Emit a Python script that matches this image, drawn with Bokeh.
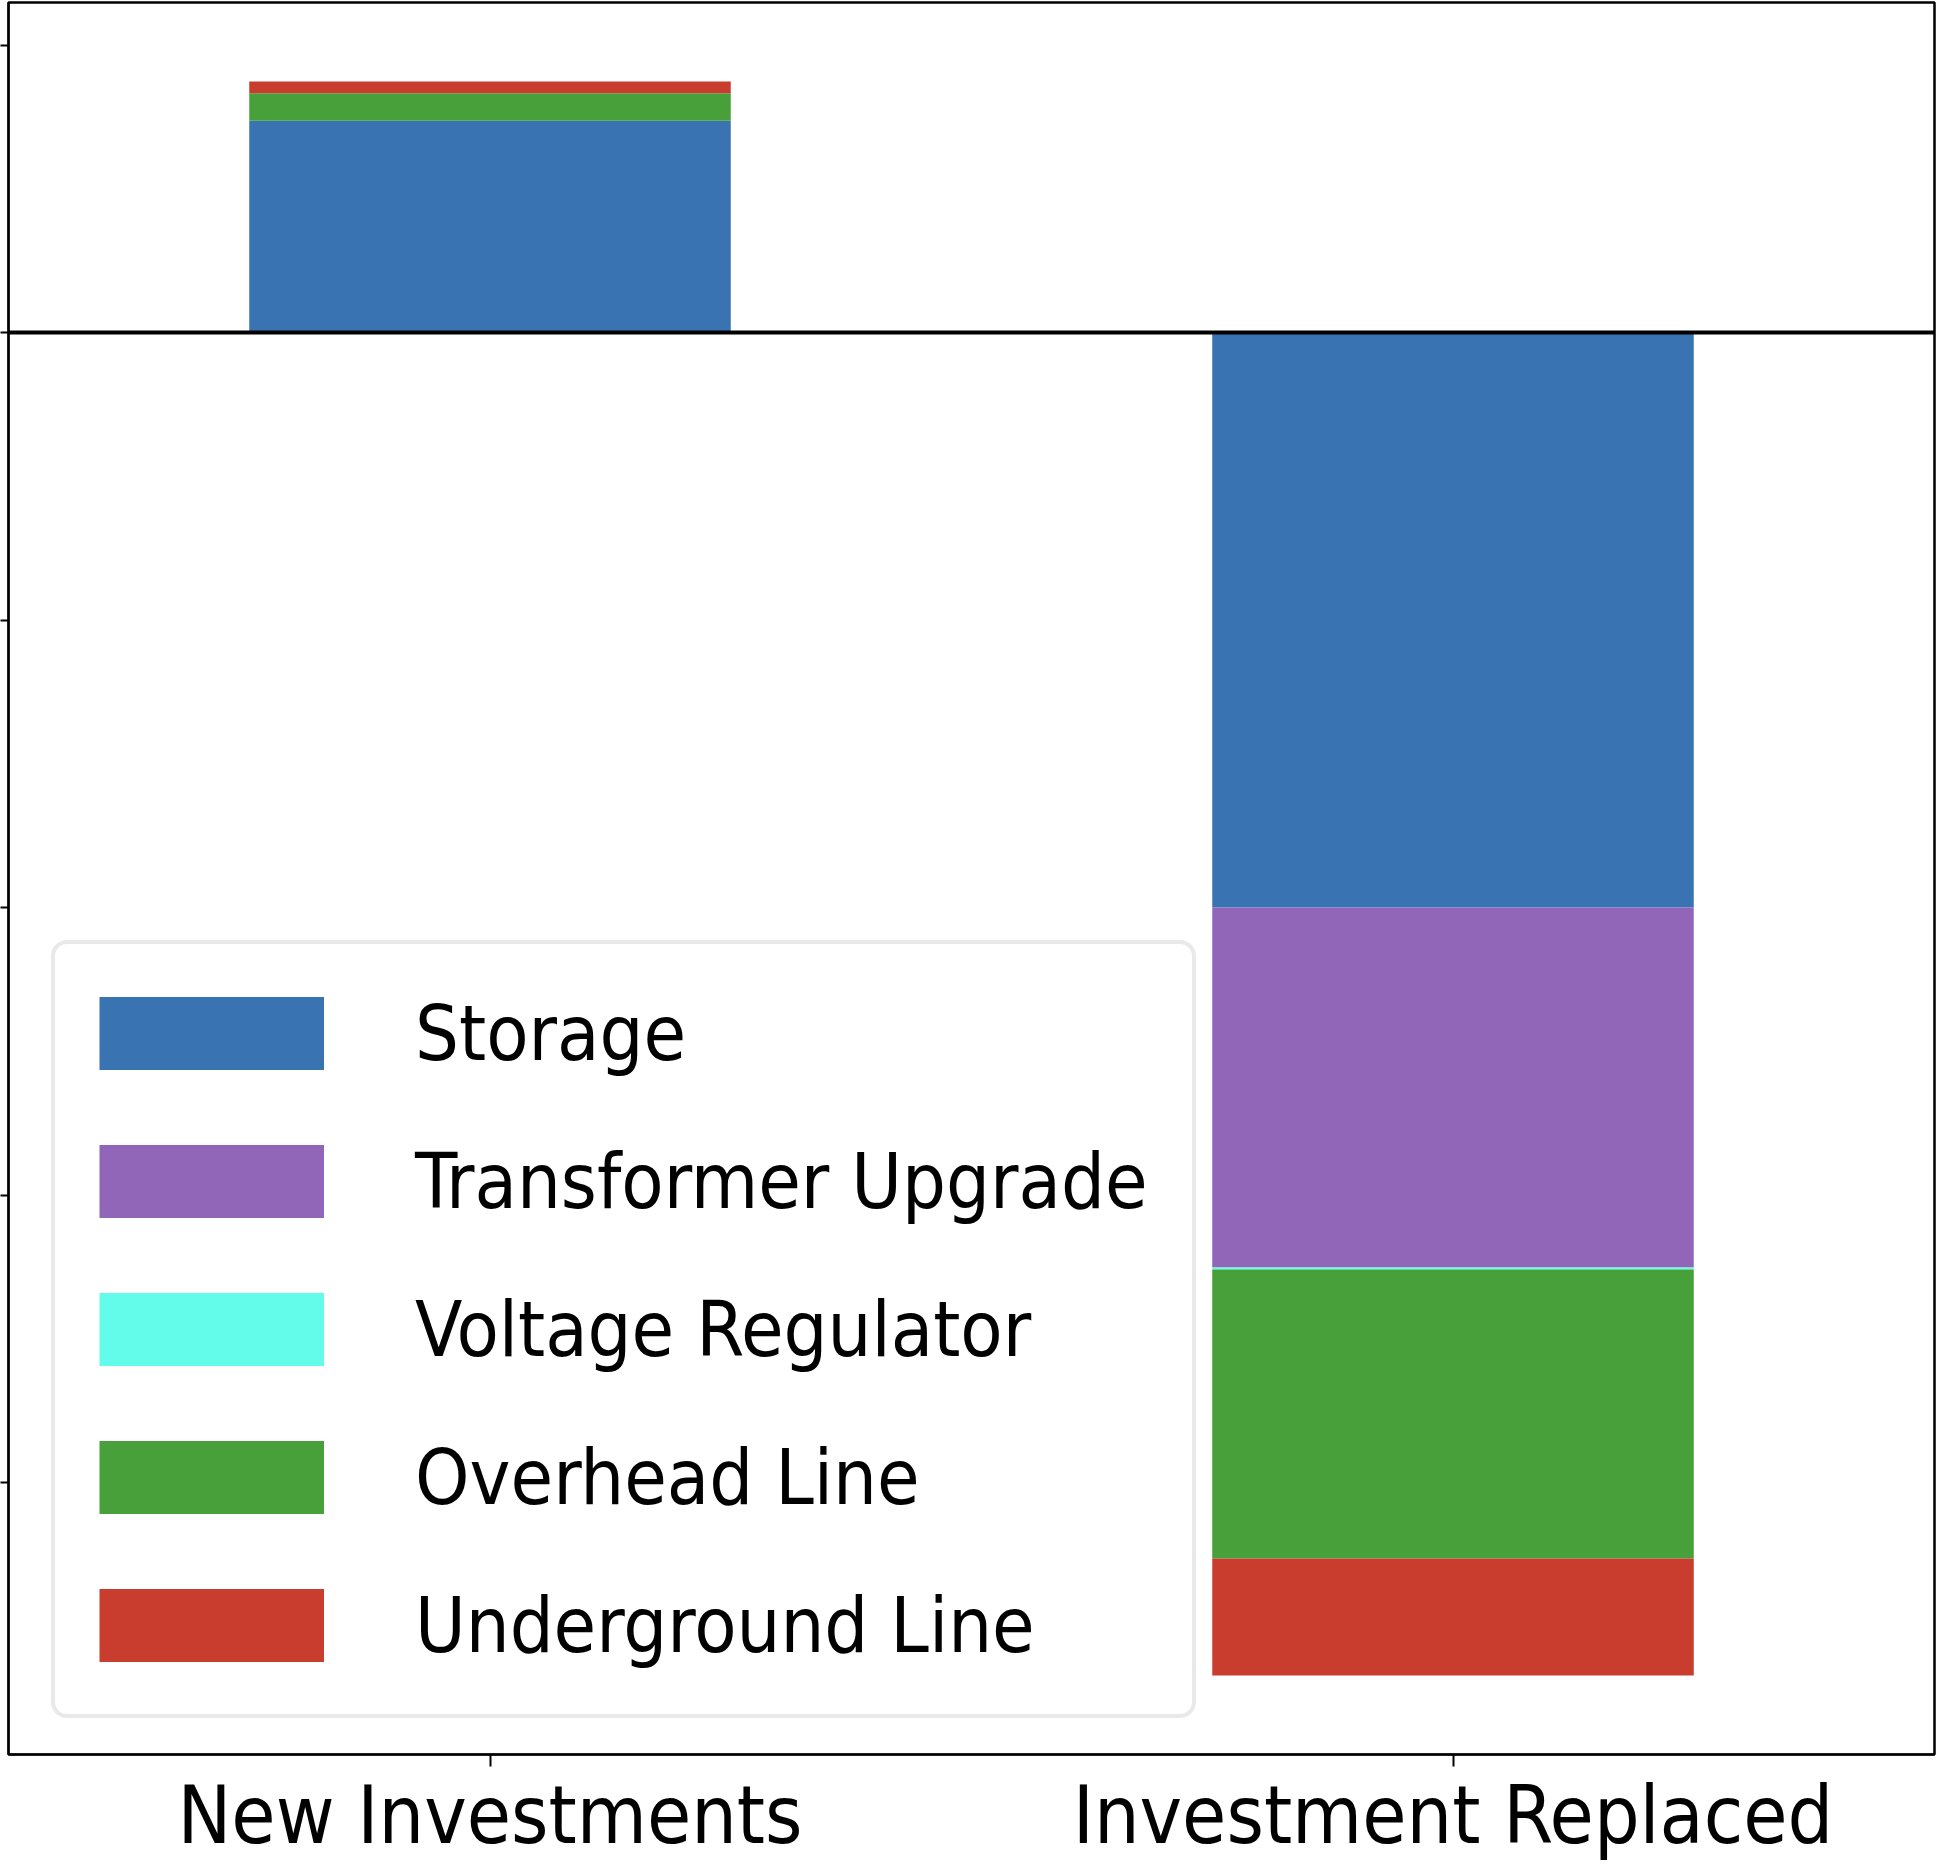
import numpy as np
from bokeh.plotting import figure
from bokeh.models import (ColumnDataSource, FixedTicker, Span, CustomJSTickFormatter,
                          FactorRange, Legend, LegendItem)
from bokeh.embed import file_html
from bokeh.resources import INLINE

# ---- data ----
categories = ["New Investments", "Investment Replaced"]
series = ["Storage", "Transformer Upgrade", "Voltage Regulator", "Overhead Line", "Underground Line"]
storage = [0.737, -2.0]
transformer_upgrade = [0.0, -1.252]
voltage_regulator = [0.0, -0.007]
overhead_line = [0.095, -1.005]
underground_line = [0.041, -0.407]
colors = ["#3a73b1", "#9166b9", "#63fbe9", "#48a03a", "#c93d2f"]
y_ticks = [-4, -3, -2, -1, 0, 1]

FONT = "'DejaVu Sans Condensed', 'DejaVu Sans', sans-serif"

keys = ["storage", "transformer_upgrade", "voltage_regulator", "overhead_line", "underground_line"]
src = ColumnDataSource(dict(
    cat=categories,
    storage=storage,
    transformer_upgrade=transformer_upgrade,
    voltage_regulator=voltage_regulator,
    overhead_line=overhead_line,
    underground_line=underground_line,
))

p = figure(
    x_range=FactorRange(*categories, range_padding=0),
    y_range=(-4.946, 1.148),
    width=1936, height=1872,
    output_backend="svg", toolbar_location=None,
    min_border_left=0, min_border_right=2, min_border_top=2, min_border_bottom=118,
)

p.vbar_stack(keys, x="cat", width=0.5, color=colors, line_color=None, source=src)

# legend swatch helpers: a single undefined point each, so nothing is drawn in the plot
items = []
for name, c in zip(series, colors):
    helper = ColumnDataSource(dict(x=[categories[0]], y=np.array([np.nan])))
    r = p.line(x="x", y="y", source=helper, line_color=c, line_width=73, line_cap="butt")
    items.append(LegendItem(label=name, renderers=[r]))

p.add_layout(Span(location=0, dimension="width", line_color="black", line_width=4))

p.xgrid.visible = False
p.ygrid.visible = False
p.outline_line_color = "black"
p.outline_line_width = 2.5
p.background_fill_color = "white"
p.border_fill_color = "white"

# y axis: ticks only
p.yaxis.ticker = FixedTicker(ticks=y_ticks)
p.yaxis.formatter = CustomJSTickFormatter(code="return ''")
p.yaxis.major_label_standoff = 0
p.yaxis.major_tick_out = 8
p.yaxis.major_tick_in = 0
p.yaxis.minor_tick_line_color = None
p.yaxis.major_tick_line_width = 2
p.yaxis.axis_line_width = 2
p.yaxis.major_tick_line_color = "black"
p.yaxis.axis_line_color = "black"

# x axis
p.xaxis.major_label_text_font = FONT
p.xaxis.major_label_text_font_size = "80px"
p.xaxis.major_label_text_color = "black"
p.xaxis.major_label_standoff = 2
p.xaxis.major_tick_out = 12
p.xaxis.major_tick_in = 0
p.xaxis.major_tick_line_width = 2
p.xaxis.axis_line_width = 2
p.xaxis.major_tick_line_color = "black"
p.xaxis.axis_line_color = "black"

# legend
lg = Legend(items=items, location=(43, 36))
lg.glyph_width = 225
lg.glyph_height = 90
lg.label_height = 90
lg.spacing = 58
lg.padding = 44
lg.margin = 0
lg.label_standoff = 91
lg.label_text_font = FONT
lg.label_text_font_size = "77px"
lg.label_text_color = "black"
lg.border_line_color = "#d4d4d4"
lg.border_line_width = 4
lg.background_fill_color = "white"
lg.background_fill_alpha = 1.0
if "border_radius" in Legend.properties():
    lg.border_radius = 16
p.add_layout(lg)

open("out.html", "w").write(file_html(p, INLINE))
